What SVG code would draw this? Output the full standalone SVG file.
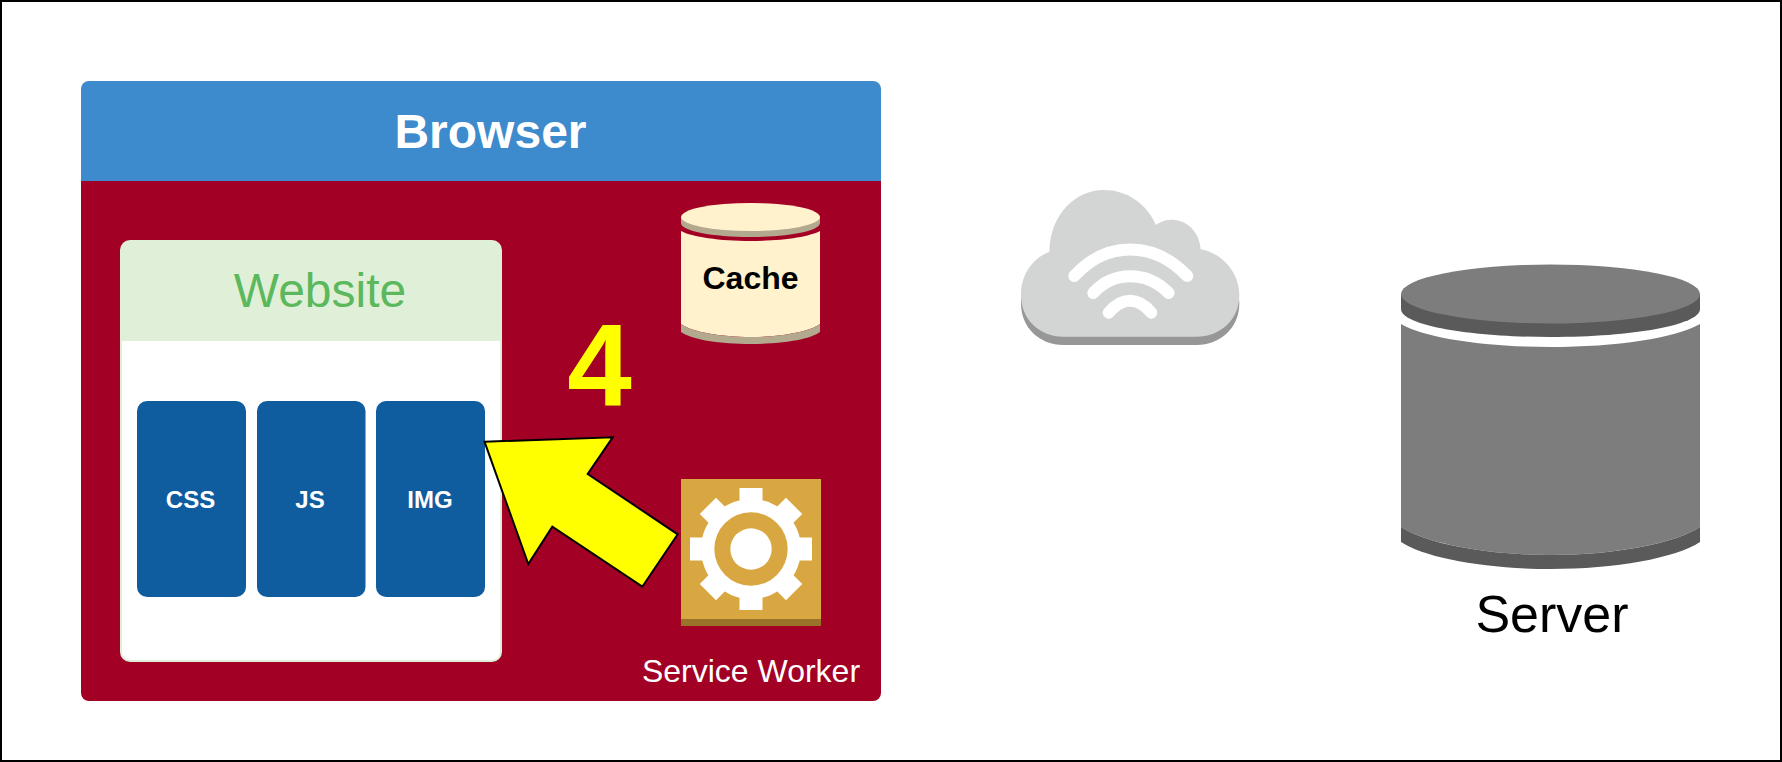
<svg xmlns="http://www.w3.org/2000/svg" xmlns:xlink="http://www.w3.org/1999/xlink" width="1782" height="762" viewBox="0 0 1782 762">
<style>
text{font-family:"Liberation Sans",Arial,sans-serif;text-anchor:middle}
.b{font-weight:bold}
.w{fill:#fff}
.res{fill:#0F5C9E}
.wifi{fill:none;stroke:#fff;stroke-width:36;stroke-linecap:round}
</style>
<defs>
<path id="cloud" d="M148 245C150 130 230 60 310 60C380 60 440 100 468 165C490 150 510 148 525 150C570 155 600 195 602 238C670 250 718 310 718 375C718 450 660 500 590 500L190 500C120 500 63 450 63 375C63 310 100 265 148 245Z"/>
<rect id="tooth" x="739.5" y="488" width="23" height="30" fill="#fff"/>
</defs>
<rect id="frame" x="1" y="1" width="1780" height="760" fill="#fff" stroke="#000" stroke-width="2"/>
<g id="browser">
<path d="M81 181V89a8 8 0 0 1 8-8H873a8 8 0 0 1 8 8V181Z" fill="#3D8ACD"/>
<path d="M81 181H881V693a8 8 0 0 1-8 8H89a8 8 0 0 1-8-8Z" fill="#A20025"/>
<text class="b w" x="490.500" y="148" font-size="48">Browser</text>
<text class="w" x="751" y="682" font-size="32">Service Worker</text>
</g>
<g id="website">
<path d="M120 341V250a10 10 0 0 1 10-10H492a10 10 0 0 1 10 10V341Z" fill="#E0F0D8"/>
<path d="M121 340H501V652a9 9 0 0 1-9 9H130a9 9 0 0 1-9-9Z" fill="#fff" stroke="#E0F0D8" stroke-width="2"/>
<text x="320" y="307" font-size="48" fill="#5CB85C">Website</text>
</g>
<g id="css"><rect class="res" x="137" y="401" width="109" height="196" rx="10"/><text class="b w" x="190.500" y="508" font-size="24">CSS</text></g>
<g id="js"><rect class="res" x="257" y="401" width="108.500" height="196" rx="10"/><text class="b w" x="310" y="508" font-size="24">JS</text></g>
<g id="img"><rect class="res" x="376" y="401" width="109" height="196" rx="10"/><text class="b w" x="430" y="508" font-size="24">IMG</text></g>
<g id="cache">
<path d="M681 217V223C681 231 712 237 750.500 237S820 231 820 223V217Z" fill="#B3A98F"/>
<ellipse cx="750.500" cy="217" rx="69.500" ry="14" fill="#FFF2CC"/>
<path d="M681 231C692 237 720 241 750.500 241S809 237 820 231V324C809 332 780 337 750.500 337S692 332 681 324Z" fill="#FFF2CC"/>
<path d="M681 324C692 332 720 337 750.500 337S809 332 820 324V332C809 340 780 344 750.500 344S692 340 681 332Z" fill="#B3A98F"/>
<text class="b" x="750.500" y="289" font-size="32">Cache</text>
</g>
<g id="step"><text class="b" x="599.500" y="405" font-size="116" fill="#FF0">4</text></g>
<g id="service-worker">
<rect x="681" y="479" width="140" height="140" fill="#D9A741"/>
<rect x="681" y="619" width="140" height="7" fill="#997328"/>
<use xlink:href="#tooth" href="#tooth"/>
<use xlink:href="#tooth" href="#tooth" transform="rotate(45 751 549)"/>
<use xlink:href="#tooth" href="#tooth" transform="rotate(90 751 549)"/>
<use xlink:href="#tooth" href="#tooth" transform="rotate(135 751 549)"/>
<use xlink:href="#tooth" href="#tooth" transform="rotate(180 751 549)"/>
<use xlink:href="#tooth" href="#tooth" transform="rotate(225 751 549)"/>
<use xlink:href="#tooth" href="#tooth" transform="rotate(270 751 549)"/>
<use xlink:href="#tooth" href="#tooth" transform="rotate(315 751 549)"/>
<circle cx="751" cy="549" r="50" fill="#fff"/>
<circle cx="751" cy="549" r="36.700" fill="#D9A741"/>
<circle cx="751" cy="549" r="20.700" fill="#fff"/>
</g>
<g id="connectors">
<path d="M484.500 441.700L612.700 437.300L587.700 474L677.700 534.300L642.300 586.700L552.300 526.700L528.300 564Z" fill="#FF0" stroke="#000" stroke-width="2" stroke-miterlimit="10"/>
</g>
<g id="internet" transform="translate(1000 170) scale(.33333)">
<use xlink:href="#cloud" href="#cloud" y="25" fill="#979797"/>
<use xlink:href="#cloud" href="#cloud" fill="#D3D5D4"/>
<path class="wifi" d="M223 318C320 212 460 212 562 318"/>
<path class="wifi" d="M280 369C340 302 440 302 506 369"/>
<path class="wifi" d="M326 428C365 380 415 380 454 428"/>
</g>
<g id="server">
<path d="M1401 294V309C1401 325 1468 337 1550.500 337S1700 325 1700 309V294Z" fill="#5A5A5A"/>
<ellipse cx="1550.500" cy="294" rx="149.500" ry="29.500" fill="#7D7D7D"/>
<path d="M1401 324C1425 338 1485 347 1550.500 347S1676 338 1700 324V527C1676 543 1615 555 1550.500 555S1425 543 1401 527Z" fill="#7D7D7D"/>
<path d="M1401 527C1425 543 1485 555 1550.500 555S1676 543 1700 527V542C1676 558 1615 569 1550.500 569S1425 558 1401 542Z" fill="#5A5A5A"/>
<text x="1552" y="632" font-size="52">Server</text>
</g>
</svg>
